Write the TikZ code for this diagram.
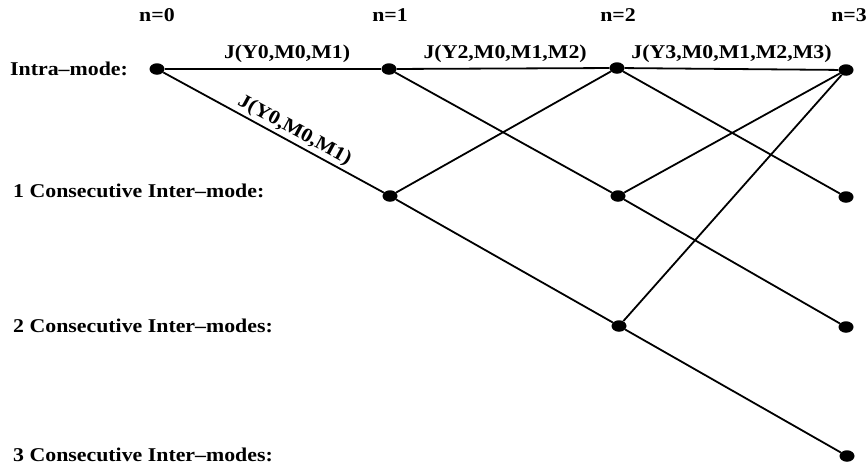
\documentclass[tikz,border=0pt]{standalone}
\usepackage{fontspec}
\setmainfont{Liberation Serif}[FakeStretch=1.12]
\usetikzlibrary{shapes.geometric}
\begin{document}
\begin{tikzpicture}[x=1pt,y=-1pt,
  state/.style={ellipse,fill=black,minimum width=15pt,minimum height=11.5pt,inner sep=0pt},
  edge/.style={line width=1.8pt},
  txt/.style={font=\fontsize{19.5}{22}\selectfont\bfseries,inner sep=0pt},
  rowlab/.style={txt,anchor=base west},
  collab/.style={txt,anchor=base},
  elab/.style={txt,above=5pt}]
  \useasboundingbox (0,0) rectangle (866,466);

  % column headers
  \node[collab] (h0) at (157,21) {n=0};
  \node[collab] (h1) at (390,21) {n=1};
  \node[collab] (h2) at (618,21) {n=2};
  \node[collab] (h3) at (849,21) {n=3};

  % row labels
  \node[rowlab] (r0) at (10,75) {Intra--mode:};
  \node[rowlab] (r1) at (13,197) {1 Consecutive Inter--mode:};
  \node[rowlab] (r2) at (13,332) {2 Consecutive Inter--modes:};
  \node[rowlab] (r3) at (13,461) {3 Consecutive Inter--modes:};

  % trellis states
  \node[state] (a0) at (157,69) {};
  \node[state] (b0) at (389,69) {};
  \node[state] (b1) at (390,196) {};
  \node[state] (c0) at (617,68) {};
  \node[state] (c1) at (618,196) {};
  \node[state] (c2) at (619,326) {};
  \node[state] (d0) at (846,70) {};
  \node[state] (d1) at (846,197) {};
  \node[state] (d2) at (846,327) {};
  \node[state] (d3) at (847,456) {};

  % transitions
  \draw[edge] (a0) -- node[elab,pos=0.565] {J(Y0,M0,M1)} (b0);
  \draw[edge] (a0) -- node[txt,sloped,above=2pt,pos=0.57] {J(Y0,M0,M1)} (b1);
  \draw[edge] (b0) -- node[elab,pos=0.51] {J(Y2,M0,M1,M2)} (c0);
  \draw[edge] (b0) -- (c1);
  \draw[edge] (b1) -- (c0);
  \draw[edge] (b1) -- (c2);
  \draw[edge] (c0) -- node[elab] {J(Y3,M0,M1,M2,M3)} (d0);
  \draw[edge] (c0) -- (d1);
  \draw[edge] (c1) -- (d0);
  \draw[edge] (c1) -- (d2);
  \draw[edge] (c2) -- (d0);
  \draw[edge] (c2) -- (d3);
\end{tikzpicture}
\end{document}
